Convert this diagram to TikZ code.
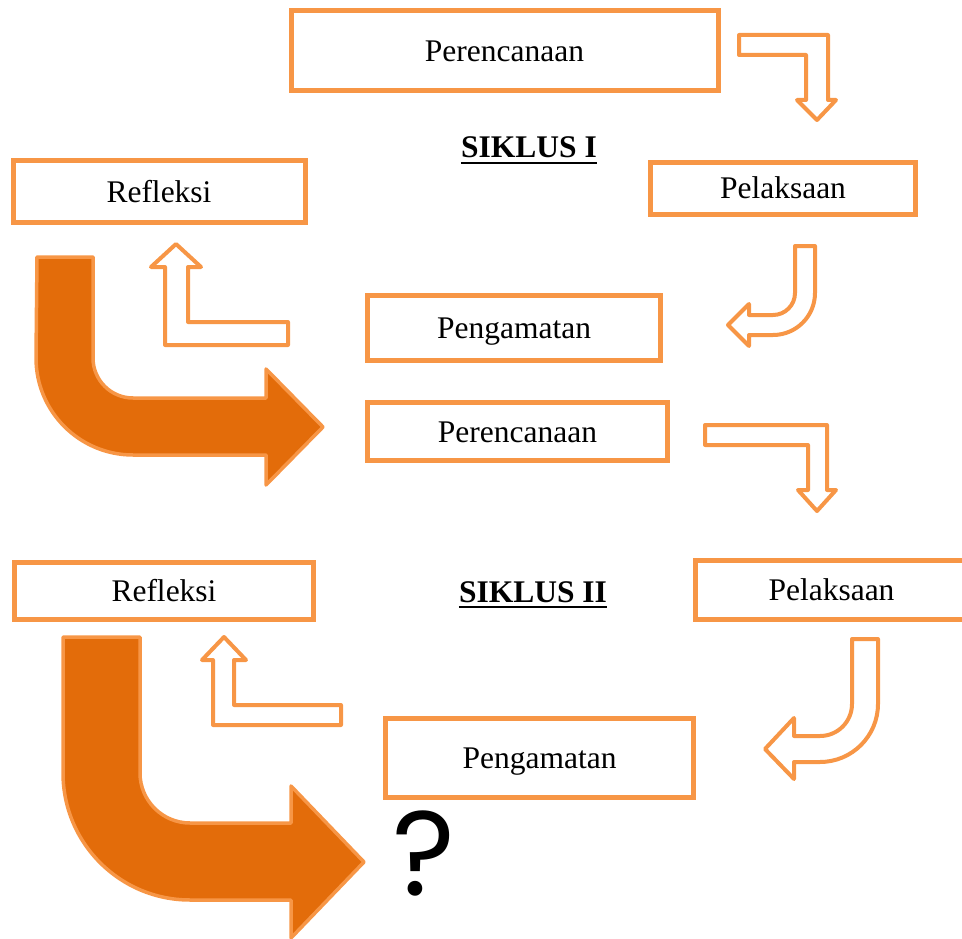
\documentclass[tikz,border=0pt]{standalone}
\usepackage{fontspec}
\setmainfont{Liberation Serif}
\newfontfamily\qfont{Poppins}
\definecolor{orL}{HTML}{F79646}
\definecolor{orD}{HTML}{E36C0A}
\tikzset{
 stagebox/.style={draw=orL, line width=5pt, fill=white, inner sep=0pt,
   font=\fontsize{31.5}{36}\selectfont, text height=21pt, text depth=0pt},
 hollowarrow/.style={draw=orL, line width=4pt, fill=white, line join=round},
 bigarrow/.style={draw=orL, line width=3.5pt, fill=orD, line join=round},
 cyclelabel/.style={font=\fontsize{31.5}{36}\selectfont\bfseries, inner sep=0pt, anchor=base},
 underl/.style={line width=2.5pt, black},
}
\begin{document}
\begin{tikzpicture}[x=1pt,y=-1pt]
\useasboundingbox (0,0) rectangle (962,939);
\clip (0,0) rectangle (962,939);

% ---------- Cycle I ----------
\node[stagebox, minimum width=427pt, minimum height=80pt] (p1) at (504.5,51) {Perencanaan};
\node[stagebox, minimum width=265pt, minimum height=52pt] (l1) at (783,188.5) {Pelaksaan};
\node[stagebox, minimum width=292pt, minimum height=62pt] (r1) at (159,192) {Refleksi};
\node[stagebox, minimum width=293pt, minimum height=65pt] (g1) at (514,328) {Pengamatan};

\node[cyclelabel] (s1) at (529,158) {SIKLUS I};
\draw[underl] ([yshift=-5pt]s1.base west) -- ([yshift=-5pt]s1.base east);

% arrow Perencanaan -> Pelaksaan
\draw[hollowarrow] (739,35) -- (828,35) -- (828,100) -- (836,100) -- (817,120)
  -- (797,100) -- (806,100) -- (806,55) -- (739,55) -- cycle;
% arrow Pelaksaan -> Pengamatan (curved)
\draw[hollowarrow] (795,246) -- (815,246) -- (815,293)
  arc[start angle=0, end angle=90, radius=42] -- (749,335) -- (749,346)
  -- (728,325) -- (749,304) -- (749,315) -- (773,315)
  arc[start angle=90, end angle=0, radius=22] -- cycle;
% arrow Pengamatan -> Refleksi
\draw[hollowarrow] (176,244) -- (201,267) -- (188,267) -- (188,322) -- (288,322)
  -- (288,345) -- (165,345) -- (165,267) -- (151,267) -- cycle;
% big arrow Refleksi -> Perencanaan 2
\draw[bigarrow] (37,257) -- (93,257) -- (93,358)
  arc[start angle=180, end angle=90, radius=40] -- (266,398) -- (266,369)
  -- (323,427) -- (266,485) -- (266,455) -- (133,455)
  arc[start angle=90, end angle=180, radius=97] -- cycle;

% ---------- Cycle II ----------
\node[stagebox, minimum width=300pt, minimum height=58pt] (p2) at (517.5,431.5) {Perencanaan};
\node[stagebox, minimum width=299pt, minimum height=57pt] (r2) at (164,591) {Refleksi};
\node[stagebox, minimum width=272pt, minimum height=59.5pt] (l2) at (831.5,589.75) {Pelaksaan};
\node[stagebox, minimum width=308pt, minimum height=79pt] (g2) at (539.5,758) {Pengamatan};

\node[cyclelabel] (s2) at (533,602) {SIKLUS II};
\draw[underl] ([yshift=-5pt]s2.base west) -- ([yshift=-5pt]s2.base east);

% arrow Perencanaan 2 -> Pelaksaan 2
\draw[hollowarrow] (705,425) -- (827,425) -- (827,490) -- (836,490) -- (817,511)
  -- (798,490) -- (808,490) -- (808,445) -- (705,445) -- cycle;
% arrow Pelaksaan 2 -> Pengamatan 2 (curved)
\draw[hollowarrow] (852,639) -- (878,639) -- (878,704)
  arc[start angle=0, end angle=90, radius=58] -- (794,762) -- (794,779)
  -- (765,749) -- (794,718) -- (794,736) -- (820,736)
  arc[start angle=90, end angle=0, radius=32] -- cycle;
% arrow Pengamatan 2 -> Refleksi 2
\draw[hollowarrow] (224,637) -- (246,660) -- (234,660) -- (234,705) -- (341,705)
  -- (341,725) -- (213,725) -- (213,660) -- (202,660) -- cycle;
% big arrow Refleksi 2 -> ?
\draw[bigarrow] (63,637) -- (140,637) -- (140,773)
  arc[start angle=180, end angle=90, radius=50] -- (291,823) -- (291,786)
  -- (364,862) -- (291,938) -- (291,900) -- (190,900)
  arc[start angle=90, end angle=180, radius=127] -- cycle;

\node[font=\qfont\fontsize{120}{122}\selectfont, inner sep=0pt, anchor=base] (q) at (424,895) {?};
\end{tikzpicture}
\end{document}
